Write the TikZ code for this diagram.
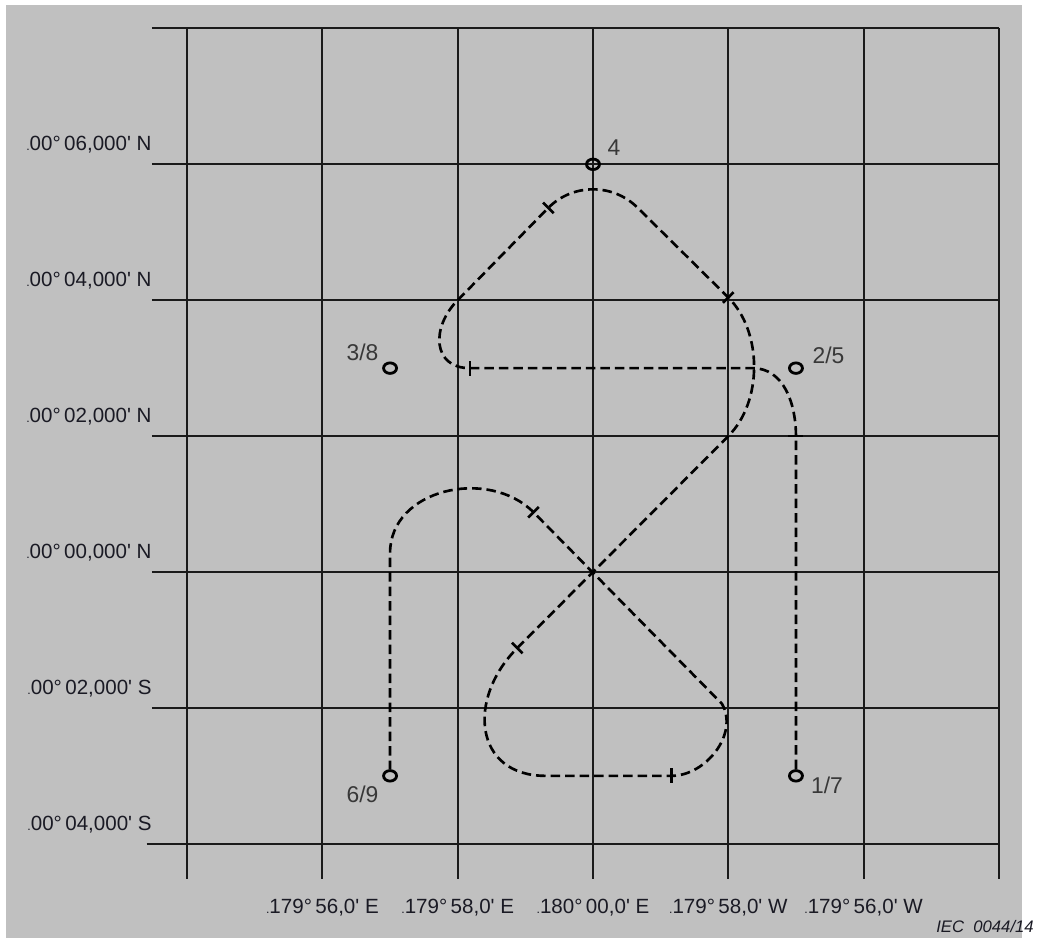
\documentclass[tikz,border=0pt]{standalone}
\usepackage{fontspec}
\setmainfont{Liberation Sans}
\usetikzlibrary{shapes.geometric}
\definecolor{clrSheet}{HTML}{C0C0C0}
\definecolor{clrGrid}{HTML}{1A1A1A}
\definecolor{clrText}{HTML}{1A1A24}
\definecolor{clrPt}{HTML}{383838}
\tikzset{
  gridline/.style = {line width=1.05pt, draw=clrGrid},
  track/.style = {line width=1.5pt, dash pattern=on 0.19cm off 0.1cm},
  wpt/.style = {ellipse, draw, line width=1.6pt, minimum width=0.26cm,
                minimum height=0.21cm, inner sep=0pt},
  tickmark/.style = {rectangle, fill=black, inner sep=0pt, minimum width=1.5pt,
                     minimum height=0.3cm},
  latlabel/.style = {anchor=base east, inner sep=0pt, text=clrText,
                     font=\fontsize{11.7}{14}\selectfont},
  lonlabel/.style = {anchor=base, inner sep=0pt, text=clrText,
                     font=\fontsize{11.7}{14}\selectfont},
  ptlabel/.style = {inner sep=0pt, text=clrPt, font=\fontsize{13}{15}\selectfont},
}

\begin{document}
\begin{tikzpicture}[x=2.706cm, y=2.718cm]

  % Sheet
  \useasboundingbox (-4.383,-2.693) rectangle (3.289,4.209);
  \fill[clrSheet] (-4.338,-2.693) rectangle (3.171,4.172);

  % Grid: parallels
  \draw[gridline] (-3.26,4) -- (3,4);
  \draw[gridline] (-3.26,3) -- (3,3);
  \draw[gridline] (-3.26,2) -- (3,2);
  \draw[gridline] (-3.26,1) -- (3,1);
  \draw[gridline] (-3.26,0) -- (3,0);
  \draw[gridline] (-3.26,-1) -- (3,-1);
  \draw[gridline] (-3.30,-2) -- (3,-2);

  % Grid: meridians
  \draw[gridline] (-3,4) -- (-3,-2.26);
  \draw[gridline] (-2,4) -- (-2,-2.26);
  \draw[gridline] (-1,4) -- (-1,-2.26);
  \draw[gridline] (0,4) -- (0,-2.26);
  \draw[gridline] (1,4) -- (1,-2.26);
  \draw[gridline] (2,4) -- (2,-2.26);
  \draw[gridline] (3,4) -- (3,-2.26);

  % Latitude labels
  \node[latlabel] (lat3)  at (-3.26,3.1)  {{\fontsize{7}{7}\selectfont.}00°\,06,000\textquotesingle{} N};
  \node[latlabel] (lat2)  at (-3.26,2.1)  {{\fontsize{7}{7}\selectfont.}00°\,04,000\textquotesingle{} N};
  \node[latlabel] (lat1)  at (-3.26,1.1)  {{\fontsize{7}{7}\selectfont.}00°\,02,000\textquotesingle{} N};
  \node[latlabel] (lat0)  at (-3.26,0.1)  {{\fontsize{7}{7}\selectfont.}00°\,00,000\textquotesingle{} N};
  \node[latlabel] (latm1) at (-3.26,-0.9) {{\fontsize{7}{7}\selectfont.}00°\,02,000\textquotesingle{} S};
  \node[latlabel] (latm2) at (-3.26,-1.9) {{\fontsize{7}{7}\selectfont.}00°\,04,000\textquotesingle{} S};

  % Longitude labels
  \node[lonlabel] (lonm2) at (-2,-2.51) {{\fontsize{7}{7}\selectfont.}179°\,56,0\textquotesingle{} E};
  \node[lonlabel] (lonm1) at (-1,-2.51) {{\fontsize{7}{7}\selectfont.}179°\,58,0\textquotesingle{} E};
  \node[lonlabel] (lon0)  at (0,-2.51)  {{\fontsize{7}{7}\selectfont.}180°\,00,0\textquotesingle{} E};
  \node[lonlabel] (lon1)  at (1,-2.51)  {{\fontsize{7}{7}\selectfont.}179°\,58,0\textquotesingle{} W};
  \node[lonlabel] (lon2)  at (2,-2.51)  {{\fontsize{7}{7}\selectfont.}179°\,56,0\textquotesingle{} W};

  % Waypoints
  \node[wpt] (wp17) at (1.5,-1.5) {};
  \node[wpt] (wp25) at (1.5,1.5)  {};
  \node[wpt] (wp38) at (-1.5,1.5) {};
  \node[wpt] (wp4)  at (0,3)      {};
  \node[wpt] (wp69) at (-1.5,-1.5) {};

  \node[ptlabel] (l17) at ([shift={(0.62cm,-0.19cm)}]wp17) {1/7};
  \node[ptlabel] (l25) at ([shift={(0.65cm,0.25cm)}]wp25)  {2/5};
  \node[ptlabel] (l38) at ([shift={(-0.55cm,0.31cm)}]wp38) {3/8};
  \node[ptlabel] (l4)  at ([shift={(0.42cm,0.34cm)}]wp4)   {4};
  \node[ptlabel] (l69) at ([shift={(-0.55cm,-0.37cm)}]wp69) {6/9};

  % Turn start / end points
  \coordinate (t2a) at (1.5,1.0);
  \coordinate (t2b) at (1.18,1.5);
  \coordinate (t3a) at (-0.91,1.5);
  \coordinate (t3b) at (-1.0,2.0);
  \coordinate (t4a) at (-0.33,2.68);
  \coordinate (t4b) at (0.33,2.68);
  \coordinate (t5a) at (1.0,2.02);
  \coordinate (t5b) at (1.0,1.0);
  \coordinate (t6a) at (-0.56,-0.56);
  \coordinate (t6b) at (-0.35,-1.5);
  \coordinate (t7a) at (0.58,-1.5);
  \coordinate (t7b) at (0.953,-0.97);
  \coordinate (t8a) at (-0.44,0.44);
  \coordinate (t8b) at (-1.5,0.14);

  % Track 1 -> 9
  \draw[track] (wp17.north) -- (t2a) to[out=90, in=0] (t2b)
    -- (t3a) to[out=180, in=225, looseness=1.4] (t3b)
    -- (t4a) to[out=45, in=135] (t4b)
    -- (t5a) to[out=-45, in=45, looseness=0.9] (t5b)
    -- (t6a) to[out=-135, in=180, looseness=1.4] (t6b)
    -- (t7a) to[out=0, in=-60] (t7b)
    -- (t8a) to[out=135, in=90, looseness=1.1] (t8b)
    -- (wp69.north);

  % Turn ticks
  \node[tickmark, rotate=90]  (k2) at (t2a) {};
  \node[tickmark]             (k3) at (t3a) {};
  \node[tickmark, rotate=45]  (k4) at (t4a) {};
  \node[tickmark, rotate=-45] (k5) at (t5a) {};
  \node[tickmark, rotate=45]  (k6) at (t6a) {};
  \node[tickmark]             (k7) at (t7a) {};
  \node[tickmark, rotate=-45] (k8) at (t8a) {};

  \node[anchor=base east, inner sep=0pt, font=\fontsize{9.5}{11}\selectfont\itshape,
        text=clrText] (iec) at (3.26,-2.656) {IEC\ \ 0044/14};

\end{tikzpicture}
\end{document}
